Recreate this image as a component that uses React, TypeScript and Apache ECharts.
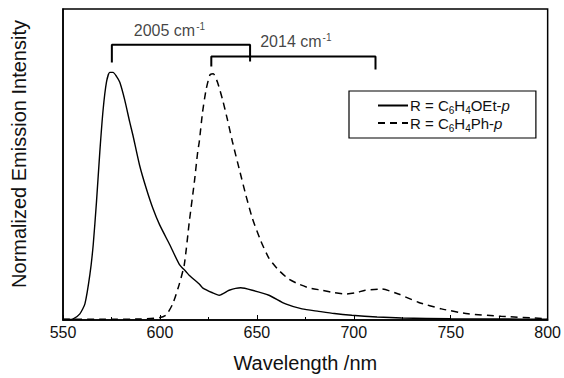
import React, { useEffect, useRef } from "react";
import * as echarts from "echarts";

const oetWl = [550, 553, 555.3, 558.7, 561.3, 563.9, 565.6, 567.3, 569, 570.7, 572.4, 574.1, 575.8, 577.5, 579.3, 581.8, 584.4, 586.1, 589.5, 593, 596.4, 599.8, 605, 610, 613.5, 615.2, 620.3, 622, 627.1, 630.6, 635.7, 641.7, 647.7, 656.2, 664.8, 673.3, 681.9, 690, 699, 712, 724.7, 750, 775, 800];
const oetVal = [0.002, 0.002, 0.005, 0.025, 0.065, 0.185, 0.305, 0.48, 0.68, 0.85, 0.96, 1.0, 1.0, 0.985, 0.96, 0.89, 0.8, 0.745, 0.625, 0.53, 0.45, 0.385, 0.305, 0.225, 0.195, 0.18, 0.145, 0.13, 0.11, 0.1, 0.12, 0.13, 0.12, 0.1, 0.065, 0.045, 0.035, 0.026, 0.019, 0.012, 0.008, 0.005, 0.004, 0.003];

const phWl = [550, 570, 590, 600, 603.2, 606.6, 610, 612.6, 615.2, 617.8, 619.5, 620.3, 622, 623.8, 625.8, 627.5, 629.7, 632.3, 634.8, 637.4, 640.9, 644.3, 647.7, 652, 656.2, 661.4, 666.5, 671.6, 676.8, 683.6, 690, 695.6, 701, 705.9, 714.4, 723, 733.2, 745.2, 758.9, 776, 800];
const phVal = [0.003, 0.003, 0.004, 0.01, 0.02, 0.065, 0.145, 0.225, 0.4, 0.56, 0.68, 0.72, 0.84, 0.93, 0.99, 0.995, 0.96, 0.89, 0.81, 0.72, 0.61, 0.505, 0.41, 0.32, 0.25, 0.2, 0.165, 0.145, 0.13, 0.12, 0.11, 0.105, 0.11, 0.12, 0.125, 0.105, 0.072, 0.045, 0.025, 0.015, 0.005];

const seriesNames = ["oet", "ph"];
const legendLabels: Record<string, string> = {
  oet: "{n|R = C}{s|6}{n|H}{s|4}{n|OEt-}{i|p}",
  ph: "{n|R = C}{s|6}{n|H}{s|4}{n|Ph-}{i|p}",
};

const bracket1X = [575.2, 575.2, 646.5, 646.5];
const bracket1Y = [1.04, 1.112, 1.112, 1.044];
const bracket2X = [626.5, 626.5, 711.2, 711.2];
const bracket2Y = [1.024, 1.064, 1.064, 1.012];
const bracketLabels = ["2005", "2014"];
const bracketLabelX = [604.9, 670.1];
const bracketLabelY = [1.168, 1.124];

const xTicks = [550, 600, 650, 700, 750, 800];
const yTitle = "Normalized Emission Intensity";
const xTitle = "Wavelength /nm";

const FONT = "Liberation Sans, Arial, sans-serif";

export default function App() {
  const ref = useRef<HTMLDivElement>(null);
  useEffect(() => {
    if (!ref.current) return;
    const chart = echarts.init(ref.current, undefined, { renderer: "svg" });
    const zip = (a: number[], b: number[]) => a.map((v, i) => [v, b[i]]);
    const richN = { fontSize: 15, fontFamily: FONT, color: "#111", lineHeight: 14 };
    chart.setOption({
      animation: false,
      backgroundColor: "#fff",
      grid: { left: 63, right: 15, top: 9, bottom: 55, show: true, borderColor: "#000", borderWidth: 1.5 },
      xAxis: {
        type: "value",
        min: xTicks[0],
        max: xTicks[xTicks.length - 1],
        interval: 50,
        axisLine: { show: true, lineStyle: { color: "#000", width: 1.5 } },
        axisTick: { show: true, inside: true, length: 5, lineStyle: { color: "#000" } },
        minorTick: { show: true, splitNumber: 2, length: 3, lineStyle: { color: "#000" } },
        splitLine: { show: false },
        axisLabel: { fontSize: 16, fontFamily: FONT, color: "#111", margin: 4 },
        name: xTitle,
        nameLocation: "middle",
        nameGap: 33,
        nameTextStyle: { fontSize: 20, fontFamily: FONT, color: "#111" },
      },
      yAxis: {
        type: "value",
        min: 0,
        max: 1.256,
        axisLine: { show: true, lineStyle: { color: "#000", width: 1.5 } },
        axisTick: { show: false },
        axisLabel: { show: false },
        splitLine: { show: false },
      },
      legend: {
        data: seriesNames,
        orient: "vertical",
        left: 349,
        top: 91,
        padding: [7, 26, 5, 28],
        itemWidth: 30,
        itemHeight: 12,
        itemGap: 0,
        borderColor: "#000",
        borderWidth: 1.2,
        itemStyle: { color: "transparent", borderWidth: 0, opacity: 0 },
        formatter: (name: string) => legendLabels[name],
        textStyle: {
          padding: [0, 0, 0, -3],
          rich: {
            n: richN,
            i: { ...richN, fontStyle: "italic" },
            s: { fontSize: 10, fontFamily: FONT, color: "#111", verticalAlign: "bottom", lineHeight: 14, padding: [0, 0, -3, 0] },
          },
        },
      },
      graphic: [
        {
          type: "text",
          x: 19,
          y: 154,
          rotation: Math.PI / 2,
          style: { text: yTitle, fontSize: 20, fontFamily: FONT, fill: "#111", align: "center", verticalAlign: "middle" },
        },
      ],
      series: [
        {
          name: "oet",
          type: "line",
          data: zip(oetWl, oetVal),
          showSymbol: false,
          symbol: "none",
          smooth: 0.2,
          lineStyle: { color: "#000", width: 1.4, type: "solid" },
          itemStyle: { color: "#000" },
        },
        {
          name: "ph",
          type: "line",
          data: zip(phWl, phVal),
          showSymbol: false,
          symbol: "none",
          smooth: 0.2,
          lineStyle: { color: "#000", width: 1.5, type: [7, 5] },
          itemStyle: { color: "#000" },
        },
        {
          name: "b1",
          type: "line",
          data: zip(bracket1X, bracket1Y),
          symbol: "none",
          lineStyle: { color: "#000", width: 2 },
        },
        {
          name: "b2",
          type: "line",
          data: zip(bracket2X, bracket2Y),
          symbol: "none",
          lineStyle: { color: "#000", width: 2 },
        },
        {
          name: "blabels",
          type: "scatter",
          symbolSize: 0,
          data: bracketLabels.map((t, i) => ({ value: [bracketLabelX[i], bracketLabelY[i]], name: t })),
          label: {
            show: true,
            position: "inside",
            formatter: (p: any) => `{n|${p.name} cm}{sup|-1}`,
            rich: {
              n: { fontSize: 16, fontFamily: FONT, color: "#111", lineHeight: 18 },
              sup: { fontSize: 10, fontFamily: FONT, color: "#111", verticalAlign: "top", lineHeight: 18, padding: [0, 0, 8, 1] },
            },
          },
        },
      ],
    });
    return () => chart.dispose();
  }, []);
  return <div ref={ref} style={{ position: "fixed", left: 0, top: 0, width: 564, height: 378 }} />;
}
